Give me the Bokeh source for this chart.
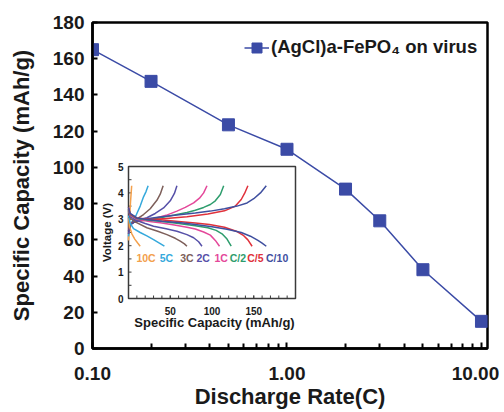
import math
from bokeh.plotting import figure
from bokeh.models import (Range1d, FixedTicker, Legend, LegendItem,
                          ColumnDataSource, LinearScale, PrintfTickFormatter)
from bokeh.embed import file_html
from bokeh.resources import INLINE
from bokeh.core.properties import value

# ---------------- main chart data ----------------
rate = [0.1, 0.2, 0.5, 1, 2, 3, 5, 10]
capacity = [165, 147.5, 123.5, 110, 88, 70.5, 43.5, 15]
series_name = "(AgCl)a-FePO\u2084 on virus"

x_ticks = [0.1, 1, 10]
x_tick_labels = ["0.10", "1.00", "10.00"]
x_minor_ticks = [0.2, 0.3, 0.4, 0.5, 0.6, 0.7, 0.8, 0.9, 2, 3, 4, 5, 6, 7, 8, 9]
y_ticks = [0, 20, 40, 60, 80, 100, 120, 140, 160, 180]

# ---------------- inset data ----------------
rate_labels = ["10C", "5C", "3C", "2C", "1C", "C/2", "C/5", "C/10"]
rate_colors = ["#F3A04C", "#36A9DC", "#7D5F5A", "#5650A8", "#E4489A",
               "#2E9D6D", "#E0313B", "#3F4F9F"]

chg_10C_cap = [0, 0.8, 1.6, 2.4, 3.2, 3.8]
chg_10C_v = [2.2, 2.7, 3.2, 3.65, 4.0, 4.27]
dis_10C_cap = [0, 1.5, 4, 7.5, 11, 14]
dis_10C_v = [3.05, 2.7, 2.45, 2.25, 2.1, 1.98]

chg_5C_cap = [0, 2, 5, 9.5, 14, 18, 21, 23.5]
chg_5C_v = [2.35, 2.75, 2.95, 3.18, 3.5, 3.85, 4.05, 4.27]
dis_5C_cap = [0, 2, 6, 14, 22, 30, 37, 43]
dis_5C_v = [3.15, 2.85, 2.65, 2.5, 2.37, 2.23, 2.1, 1.98]

chg_3C_cap = [0, 2, 6, 12, 18, 26, 34, 38, 41.5]
chg_3C_v = [2.45, 2.8, 2.95, 3.05, 3.18, 3.4, 3.72, 3.95, 4.27]
dis_3C_cap = [0, 2, 8, 22, 35, 46, 56, 62, 67, 70]
dis_3C_v = [3.3, 3.05, 2.9, 2.68, 2.55, 2.42, 2.28, 2.17, 2.07, 1.98]

chg_2C_cap = [0, 2, 7, 15, 22, 32, 42, 50, 55, 58]
chg_2C_v = [2.45, 2.8, 2.95, 3.0, 3.06, 3.22, 3.43, 3.7, 3.98, 4.27]
dis_2C_cap = [0, 2, 10, 20, 30, 45, 58, 70, 78, 84, 88]
dis_2C_v = [3.35, 3.1, 2.95, 2.84, 2.74, 2.64, 2.55, 2.42, 2.3, 2.15, 1.98]

chg_1C_cap = [0, 2, 8, 20, 30, 45, 58, 68, 78, 85, 90, 94]
chg_1C_v = [2.5, 2.8, 2.92, 2.98, 3.02, 3.15, 3.31, 3.45, 3.62, 3.8, 4.0, 4.27]
dis_1C_cap = [0, 2, 10, 25, 38, 55, 70, 80, 90, 98, 104, 109]
dis_1C_v = [3.4, 3.15, 3.0, 2.92, 2.87, 2.78, 2.7, 2.63, 2.52, 2.4, 2.2, 1.98]

chg_C2_cap = [0, 2, 10, 25, 38, 55, 70, 80, 90, 98, 104, 110, 114]
chg_C2_v = [2.55, 2.82, 2.93, 2.99, 3.06, 3.16, 3.26, 3.34, 3.45, 3.56, 3.7, 3.94, 4.27]
dis_C2_cap = [0, 2, 10, 25, 38, 60, 80, 95, 105, 112, 118, 123]
dis_C2_v = [3.4, 3.18, 3.03, 2.96, 2.93, 2.84, 2.76, 2.68, 2.58, 2.45, 2.25, 1.98]

chg_C5_cap = [0, 2, 10, 25, 45, 70, 95, 115, 128, 135, 139, 143]
chg_C5_v = [2.55, 2.82, 2.93, 2.98, 3.03, 3.1, 3.2, 3.32, 3.5, 3.75, 3.98, 4.27]
dis_C5_cap = [0, 2, 10, 25, 38, 60, 80, 97, 115, 129, 138, 143, 148]
dis_C5_v = [3.45, 3.2, 3.05, 3.0, 2.98, 2.92, 2.86, 2.8, 2.7, 2.55, 2.38, 2.22, 1.98]

chg_C10_cap = [0, 2, 8, 18, 35, 58, 80, 98, 115, 130, 142, 150, 158, 165]
chg_C10_v = [2.5, 2.78, 2.92, 3.0, 3.08, 3.16, 3.24, 3.31, 3.4, 3.5, 3.62, 3.78, 4.0, 4.27]
dis_C10_cap = [0, 2, 10, 25, 40, 60, 80, 100, 118, 135, 146, 155, 160, 165]
dis_C10_v = [3.45, 3.22, 3.05, 2.98, 2.93, 2.88, 2.8, 2.72, 2.62, 2.5, 2.36, 2.2, 2.1, 1.98]

inset_x_limits = [0, 200]
inset_y_limits = [0, 5]
inset_x_ticks = [50, 100, 150]
inset_x_minor = list(range(10, 200, 10))
inset_y_ticks = [0, 1, 2, 3, 4, 5]
inset_y_minor = [0.5, 1.5, 2.5, 3.5, 4.5]
inset_x_title = "Specific Capacity (mAh/g)"
inset_y_title = "Voltage (V)"

# label placement for rate names (layout)
rate_label_x = [21, 45.5, 70, 89.5, 111, 131, 152, 178]
rate_label_y = 1.54

# ---------------- layout constants ----------------
W, H = 504, 412
FL, FR, FT, FB = 92, 487, 22, 348          # main frame in canvas px
IL, IR, IT, IB = 128, 295, 166, 298        # inset frame in canvas px
FONT = "Liberation Sans"
BLUE = "#3B4BA6"

p = figure(width=W, height=H, x_axis_type="log",
           x_range=Range1d(0.1, 10.74), y_range=Range1d(0, 180),
           output_backend="svg", toolbar_location=None,
           min_border_left=FL, min_border_right=W - FR,
           min_border_top=FT, min_border_bottom=H - FB)
p.background_fill_color = "white"
p.border_fill_color = "white"
p.grid.visible = False
p.outline_line_color = "black"
p.outline_line_width = 2.5

# x axis
xa = p.xaxis[0]
xa.ticker = FixedTicker(ticks=x_ticks, minor_ticks=x_minor_ticks)
xa.formatter = PrintfTickFormatter(format="%.2f")
overrides = {t: l for t, l in zip(x_ticks, x_tick_labels)}
overrides[x_ticks[-1]] = x_tick_labels[-1] + "\u00a0"
xa.major_label_overrides = overrides
xa.axis_line_width = 2.5
xa.major_tick_in = 6
xa.major_tick_out = 0
xa.minor_tick_in = 5
xa.minor_tick_out = 0
xa.major_tick_line_width = 2
xa.minor_tick_line_width = 2
xa.major_label_standoff = 14
xa.major_label_text_font = FONT
xa.major_label_text_font_style = "bold"
xa.major_label_text_font_size = "19px"
xa.major_label_text_color = "#1a1a1a"
xa.axis_label = "Discharge Rate(C)"
xa.axis_label_text_font = FONT
xa.axis_label_text_font_style = "bold"
xa.axis_label_text_font_size = "22px"
xa.axis_label_text_color = "#1a1a1a"
xa.axis_label_standoff = -3

# y axis
ya = p.yaxis[0]
ya.ticker = FixedTicker(ticks=y_ticks, minor_ticks=[])
ya.axis_line_width = 2.5
ya.major_tick_in = 5
ya.major_tick_out = 0
ya.minor_tick_in = 0
ya.minor_tick_out = 0
ya.major_tick_line_width = 2
ya.major_label_standoff = 8
ya.major_label_text_font = FONT
ya.major_label_text_font_style = "bold"
ya.major_label_text_font_size = "19px"
ya.major_label_text_color = "#1a1a1a"
ya.axis_label = "Specific Capacity (mAh/g)"
ya.axis_label_text_font = FONT
ya.axis_label_text_font_style = "bold"
ya.axis_label_text_font_size = "22px"
ya.axis_label_text_color = "#1a1a1a"
ya.axis_label_standoff = 16

# main series
line_r = p.line(rate, capacity, line_color=BLUE, line_width=1.5)
sq_r = p.scatter(rate, capacity, marker="square", size=12, fill_color=BLUE, line_color=BLUE)

legend = Legend(items=[LegendItem(label=series_name, renderers=[line_r, sq_r])],
                location=(152, 288), margin=0, padding=0,
                glyph_width=25, glyph_height=25, label_height=26, label_standoff=2,
                label_text_font=FONT, label_text_font_style="bold",
                label_text_font_size="18.5px", label_text_color="#1a1a1a",
                border_line_color=None, background_fill_alpha=0)
p.add_layout(legend)

# ---------------- inset via extra ranges ----------------
sx = (inset_x_limits[1] - inset_x_limits[0]) / (IR - IL)
sy = (inset_y_limits[1] - inset_y_limits[0]) / (IB - IT)
p.extra_x_ranges = {"ix": Range1d(inset_x_limits[0] - (IL - FL) * sx,
                                  inset_x_limits[1] + (FR - IR) * sx)}
p.extra_y_ranges = {"iy": Range1d(inset_y_limits[0] - (FB - IB) * sy,
                                  inset_y_limits[1] + (IT - FT) * sy)}
p.extra_x_scales = {"ix": LinearScale()}
p.extra_y_scales = {"iy": LinearScale()}
R = dict(x_range_name="ix", y_range_name="iy")

p.quad(left=[inset_x_limits[0]], right=[inset_x_limits[1]],
       bottom=[inset_y_limits[0]], top=[inset_y_limits[1]],
       fill_color="white", line_color="#3a3a3a", line_width=1.5, **R)

# inset ticks (inward)
tx = 3 * sy
ty = 3 * sx
xt_all = inset_x_ticks + inset_x_minor
p.segment(x0=xt_all, x1=xt_all, y0=[inset_y_limits[0]] * len(xt_all),
          y1=[inset_y_limits[0] + tx] * len(xt_all), line_color="#3a3a3a", line_width=1, **R)
yt_all = inset_y_ticks + inset_y_minor
p.segment(x0=[inset_x_limits[0]] * len(yt_all), x1=[inset_x_limits[0] + ty] * len(yt_all),
          y0=yt_all, y1=yt_all, line_color="#3a3a3a", line_width=1, **R)

# curves
charge_caps = [chg_10C_cap, chg_5C_cap, chg_3C_cap, chg_2C_cap, chg_1C_cap, chg_C2_cap, chg_C5_cap, chg_C10_cap]
charge_vs = [chg_10C_v, chg_5C_v, chg_3C_v, chg_2C_v, chg_1C_v, chg_C2_v, chg_C5_v, chg_C10_v]
dis_caps = [dis_10C_cap, dis_5C_cap, dis_3C_cap, dis_2C_cap, dis_1C_cap, dis_C2_cap, dis_C5_cap, dis_C10_cap]
dis_vs = [dis_10C_v, dis_5C_v, dis_3C_v, dis_2C_v, dis_1C_v, dis_C2_v, dis_C5_v, dis_C10_v]

src = ColumnDataSource(dict(xs=charge_caps + dis_caps, ys=charge_vs + dis_vs,
                            color=rate_colors + rate_colors))
p.multi_line(xs="xs", ys="ys", line_color="color", line_width=1.5, source=src, **R)

# rate labels
p.text(x=rate_label_x, y=[rate_label_y] * len(rate_labels), text=rate_labels,
       text_color=rate_colors, text_align="center", text_baseline="middle",
       text_font=value(FONT), text_font_style="bold", text_font_size="10.5px", **R)

# inset tick labels
p.text(x=[inset_x_limits[0]] * len(inset_y_ticks), y=inset_y_ticks,
       text=[str(v) for v in inset_y_ticks], x_offset=-5,
       text_align="right", text_baseline="middle", text_color="#1a1a1a",
       text_font=value(FONT), text_font_style="bold", text_font_size="10px", **R)
p.text(x=inset_x_ticks, y=[inset_y_limits[0]] * len(inset_x_ticks),
       text=[str(v) for v in inset_x_ticks], y_offset=12,
       text_align="center", text_baseline="middle", text_color="#1a1a1a",
       text_font=value(FONT), text_font_style="bold", text_font_size="10px", **R)
p.text(x=[(inset_x_limits[0] + inset_x_limits[1]) / 2 + 3], y=[inset_y_limits[0]],
       text=[inset_x_title], y_offset=24,
       text_align="center", text_baseline="middle", text_color="#1a1a1a",
       text_font=value(FONT), text_font_style="bold", text_font_size="13px", **R)
p.text(x=[inset_x_limits[0]], y=[(inset_y_limits[0] + inset_y_limits[1]) / 2],
       text=[inset_y_title], x_offset=-22, angle=math.pi / 2,
       text_align="center", text_baseline="middle", text_color="#1a1a1a",
       text_font=value(FONT), text_font_style="bold", text_font_size="11.5px", **R)

open("out.html", "w").write(file_html(p, INLINE))
